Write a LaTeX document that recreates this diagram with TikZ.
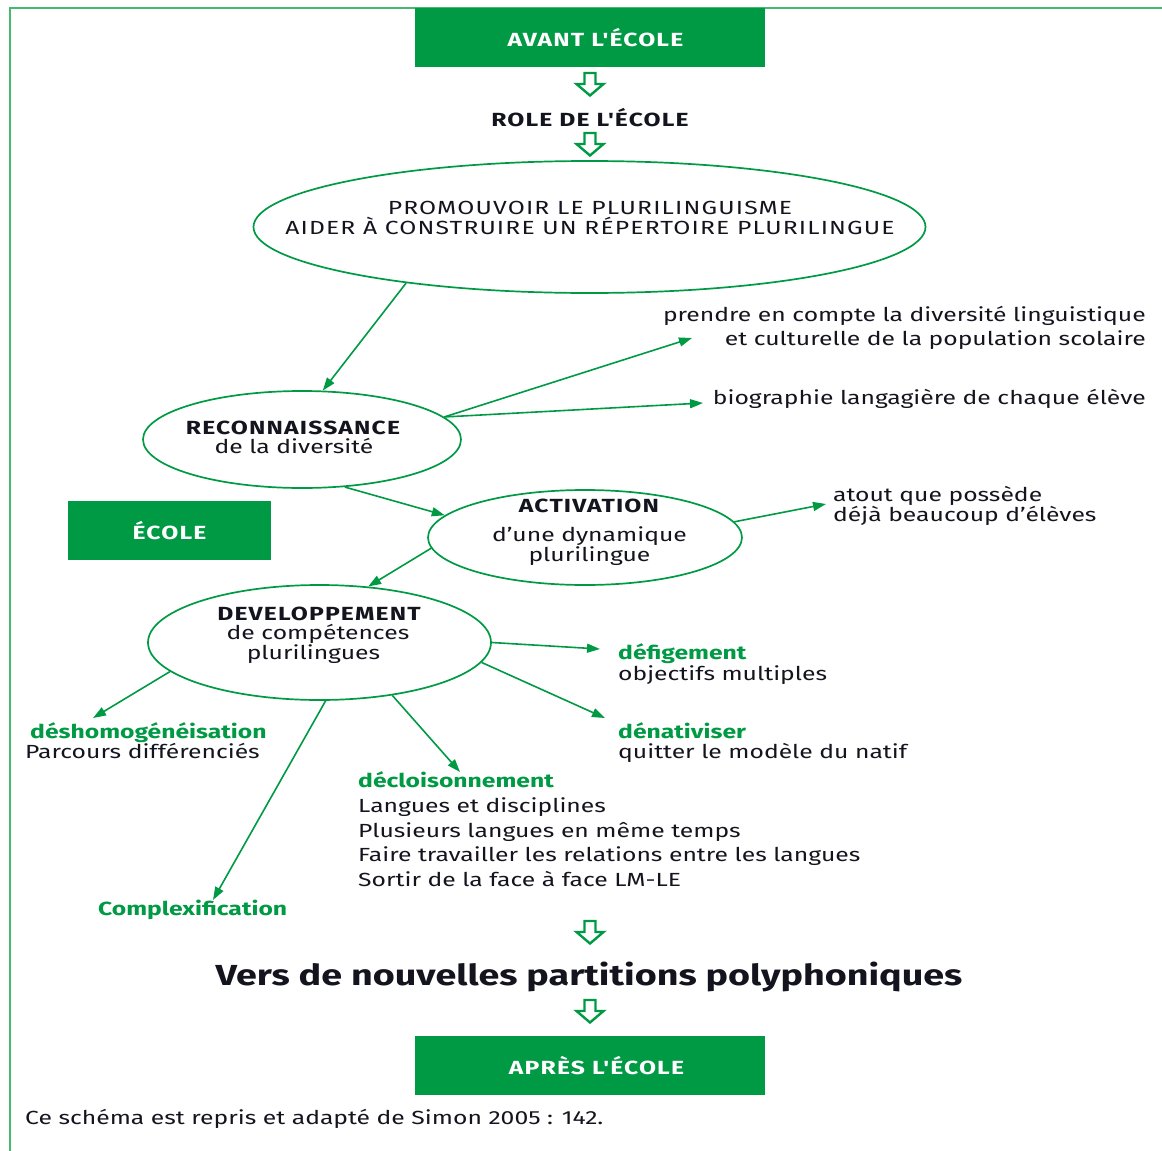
\documentclass[tikz,border=0pt]{standalone}
\usepackage{fontspec}
\setmainfont{Fira Sans}[FakeStretch=1.3]
\newfontfamily\capsf{Fira Sans}[FakeStretch=1.3,LetterSpace=6]
\usetikzlibrary{shapes.geometric,arrows.meta}
\definecolor{vert}{RGB}{0,154,68}
\definecolor{bord}{RGB}{70,185,110}
\definecolor{ink}{RGB}{20,20,30}
\newcommand\hollowdown[2]{%
  \draw[hollow] ({#1-5.5},#2) -- ({#1+5.5},#2) -- ({#1+5.5},{#2+11}) -- ({#1+13.5},{#2+11})
    -- (#1,{#2+22.5}) -- ({#1-13.5},{#2+11}) -- ({#1-5.5},{#2+11}) -- cycle;}
\begin{document}
\begin{tikzpicture}[x=1pt,y=-1pt,
  every node/.style={inner sep=0pt, text=ink},
  font=\fontsize{19}{24}\selectfont,
  gbox/.style={fill=vert, minimum height=59pt},
  gtext/.style={text=white, font=\fontsize{19}{24}\selectfont\capsf\bfseries},
  ell/.style={ellipse, draw=vert, line width=1.7pt},
  conn/.style={draw=vert, line width=1.6pt, -{Triangle[length=13pt,width=9pt]}},
  hollow/.style={draw=vert, line width=2.4pt, fill=white, line join=miter},
  lbl/.style={anchor=base west},
  glbl/.style={anchor=base west, text=vert, font=\fontsize{19}{24}\selectfont\bfseries},
  caps/.style={anchor=base, font=\fontsize{19}{24}\selectfont\capsf},
  head/.style={anchor=base, font=\fontsize{19}{24}\selectfont\capsf\bfseries}]
\useasboundingbox (0,0) rectangle (1162,1151);
\draw[bord, line width=1.4pt] (10,1151) -- (10,8) -- (1162,8);

% boxes
\node[gbox, minimum width=350pt] (avant) at (590,37.5) {};
\node[gtext] (avantt) at (595.5,38) {AVANT L'ÉCOLE};
\node[gbox, minimum width=203pt] (ecole) at (169.5,530.5) {};
\node[gtext] (ecolet) at (169.5,531) {ÉCOLE};
\node[gbox, minimum width=350pt] (apres) at (590,1065.5) {};
\node[gtext] (aprest) at (596.5,1066) {APRÈS L'ÉCOLE};

\hollowdown{590}{73}
\node[head] (role) at (590,126) {ROLE DE L'ÉCOLE};
\hollowdown{590}{133}

% ellipse 1
\node[ell, minimum width=672pt, minimum height=132pt] (e1) at (589.5,227) {};
\node[caps] (e1a) at (590,214) {PROMOUVOIR LE PLURILINGUISME};
\node[caps] (e1b) at (590,234) {AIDER À CONSTRUIRE UN RÉPERTOIRE PLURILINGUE};

% ellipse 2
\node[ell, minimum width=318pt, minimum height=97pt] (e2) at (302,439.5) {};
\node[head] (e2a) at (293,434) {RECONNAISSANCE};
\node[anchor=base] (e2b) at (294,453) {de la diversité};

% ellipse 3
\node[ell, minimum width=314pt, minimum height=95pt] (e3) at (585,537.5) {};
\node[head] (e3a) at (589,512) {ACTIVATION};
\node[anchor=base] (e3b) at (589.5,541) {d'une dynamique};
\node[anchor=base] (e3c) at (589.5,561) {plurilingue};

% ellipse 4
\node[ell, minimum width=343pt, minimum height=115pt] (e4) at (319.5,642.5) {};
\node[head] (e4a) at (319,620) {DEVELOPPEMENT};
\node[anchor=base] (e4b) at (318,639) {de compétences};
\node[anchor=base] (e4c) at (313.5,659) {plurilingues};

% right texts
\node[anchor=base east] (t1a) at (1146,321) {prendre en compte la diversité linguistique};
\node[anchor=base east] (t1b) at (1146,345) {et culturelle de la population scolaire};
\node[anchor=base east] (t2) at (1146,404) {biographie langagière de chaque élève};
\node[lbl] (t3a) at (833,501) {atout que possède};
\node[lbl] (t3b) at (833,521) {déjà beaucoup d'élèves};

\node[glbl] (t4a) at (618,659) {défigement};
\node[lbl] (t4b) at (618,680) {objectifs multiples};
\node[glbl] (t5a) at (618,738) {dénativiser};
\node[lbl] (t5b) at (618,758) {quitter le modèle du natif};
\node[glbl] (t6a) at (358,787) {décloisonnement};
\node[lbl] (t6b) at (358,812) {Langues et disciplines};
\node[lbl] (t6c) at (358,837) {Plusieurs langues en même temps};
\node[lbl] (t6d) at (358,861) {Faire travailler les relations entre les langues};
\node[lbl] (t6e) at (358,886) {Sortir de la face à face LM-LE};
\node[glbl] (t7) at (98,915) {Complexification};
\node[glbl] (t8a) at (30,738) {déshomogénéisation};
\node[lbl] (t8b) at (25,758) {Parcours différenciés};

\hollowdown{590}{921}
\node[anchor=base, font=\fontsize{29}{32}\selectfont\bfseries] (vers) at (589,985) {Vers de nouvelles partitions polyphoniques};
\hollowdown{590}{1000}

\node[lbl] (foot) at (25,1124) {Ce schéma est repris et adapté de Simon 2005 : 142.};

% arrow end points
\coordinate (p1) at (692,338);
\coordinate (p2) at (703,403);
\coordinate (p3) at (826,504);
\coordinate (p4) at (600,649);
\coordinate (p5) at (605,718);
\coordinate (p6) at (460,772);
\coordinate (p7) at (213,900);
\coordinate (p8) at (93,718);

\draw[conn] (e1.197.8) -- (e2.67.8);
\draw[conn] (e2.9.7) -- (p1);
\draw[conn] (e2.9.7) -- (p2);
\draw[conn] (e2.-48.1) -- (e3.171.2);
\draw[conn] (e3.6.5) -- (p3);
\draw[conn] (e3.184.9) -- (e4.49.3);
\draw[conn] (e4.0) -- (p4);
\draw[conn] (e4.-7) -- (p5);
\draw[conn] (e4.-36.6) -- (p6);
\draw[conn] (e4.-84) -- (p7);
\draw[conn] (e4.191.7) -- (p8);
\end{tikzpicture}
\end{document}
